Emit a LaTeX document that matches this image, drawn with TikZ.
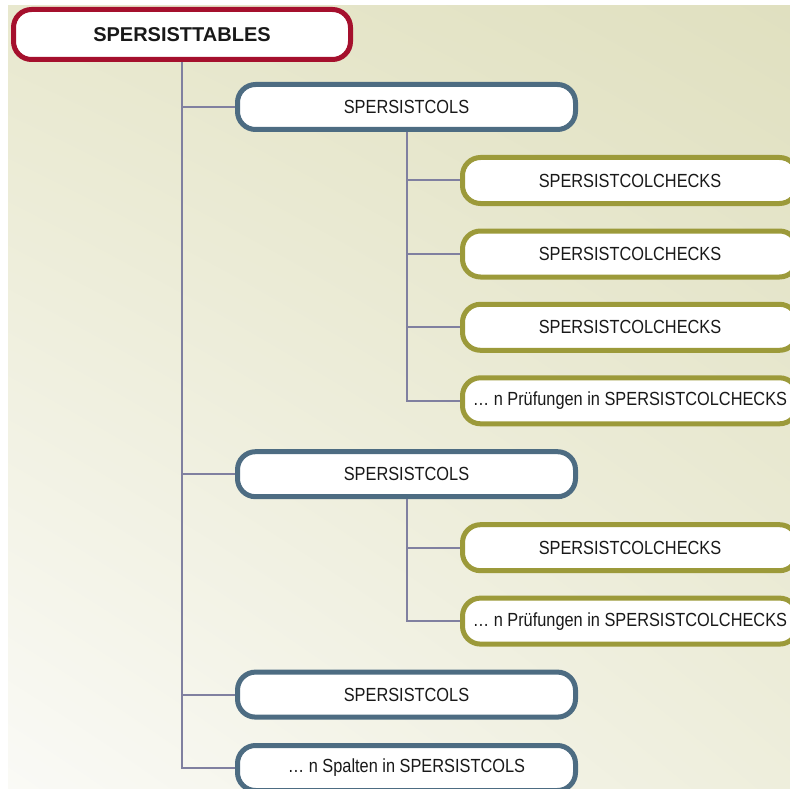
\documentclass[tikz,border=0pt]{standalone}
\usepackage{fontspec}
\setmainfont{Liberation Sans}
\newfontfamily\narrowfont{Liberation Sans}[FakeStretch=0.86]
\usetikzlibrary{positioning, shadings}
\definecolor{rootRed}{RGB}{165,16,45}
\definecolor{colBlue}{RGB}{77,108,130}
\definecolor{chkOlive}{RGB}{156,154,58}
\definecolor{linkGray}{RGB}{128,128,160}
\definecolor{bgBeige}{RGB}{224,224,192}
\definecolor{bgLight}{RGB}{232,232,206}
\definecolor{bgPale}{RGB}{238,238,220}
\definecolor{bgWhite}{RGB}{250,250,246}

\begin{document}
\begin{tikzpicture}[x=1pt, y=-1pt,
  box/.style={draw, fill=white, line width=5pt, rounded corners=18pt,
              align=center, inner sep=0pt, text=black!90},
  tablebox/.style={box, draw=rootRed, minimum width=337pt, minimum height=50pt,
                   font=\fontsize{20}{22}\selectfont\bfseries},
  colbox/.style={box, draw=colBlue, minimum width=338pt, minimum height=45pt,
                 font=\narrowfont\fontsize{19}{21}\selectfont},
  checkbox/.style={box, draw=chkOlive, minimum width=335pt, minimum height=46pt,
                   font=\narrowfont\fontsize{19}{21}\selectfont},
  link/.style={draw=linkGray, line width=2pt},
]
  \useasboundingbox (0,0) rectangle (790,789);
  \clip (0,0) rectangle (790,789);
  \fill[white] (0,0) rectangle (790,789);
  \shade[upper left=bgLight, upper right=bgBeige, lower left=bgWhite, lower right=bgPale]
    (8,6) rectangle (790,789);

  % table and its columns
  \node[tablebox] (tab) at (182,34.5) {SPERSISTTABLES};
  \node[colbox] (c1) at (406.5,107) {SPERSISTCOLS};
  \node[colbox] (c2) at (406.5,474.2) {SPERSISTCOLS};
  \node[colbox] (c3) at (406.5,694.6) {SPERSISTCOLS};
  \node[colbox] (c4) at (406.5,768) {\dots\ n Spalten in SPERSISTCOLS};

  % checks
  \node[checkbox] (k1) at (630,180.5) {SPERSISTCOLCHECKS};
  \node[checkbox] (k2) at (630,254) {SPERSISTCOLCHECKS};
  \node[checkbox] (k3) at (630,327.3) {SPERSISTCOLCHECKS};
  \node[checkbox] (k4) at (630,400.8) {\dots\ n Prüfungen in SPERSISTCOLCHECKS};
  \node[checkbox] (k5) at (630,547.7) {SPERSISTCOLCHECKS};
  \node[checkbox] (k6) at (630,621.1) {\dots\ n Prüfungen in SPERSISTCOLCHECKS};

  % connectors
  \draw[link] (tab.south) -- (tab.south |- c4.west) -- (c4.west);
  \foreach \n in {c1,c2,c3}
    \draw[link] (tab.south |- \n.west) -- (\n.west);
  \draw[link] (c1.south) -- (c1.south |- k4.west) -- (k4.west);
  \foreach \n in {k1,k2,k3}
    \draw[link] (c1.south |- \n.west) -- (\n.west);
  \draw[link] (c2.south) -- (c2.south |- k6.west) -- (k6.west);
  \draw[link] (c2.south |- k5.west) -- (k5.west);
\end{tikzpicture}
\end{document}
